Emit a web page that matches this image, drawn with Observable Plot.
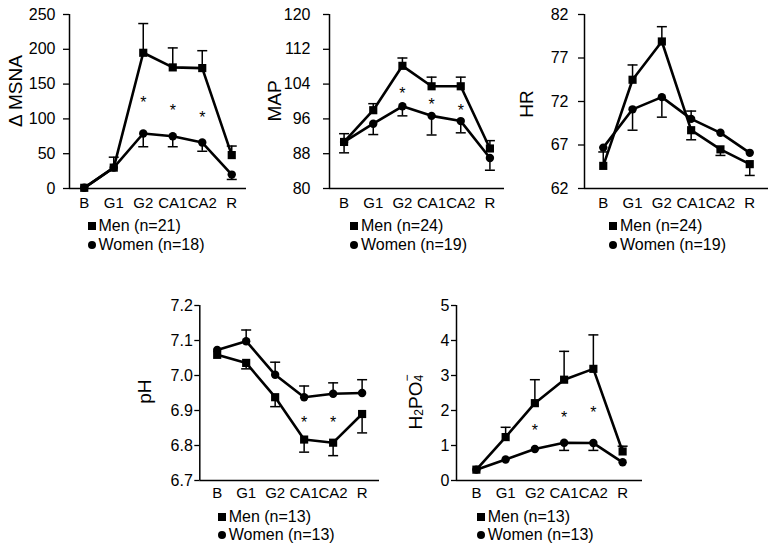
<!DOCTYPE html>
<html><head><meta charset="utf-8">
<script src="https://cdn.jsdelivr.net/npm/d3@7"></script>
<script src="https://cdn.jsdelivr.net/npm/@observablehq/plot@0.6"></script>
<style>
body{margin:0;background:#fff;font-family:"Liberation Sans",Arial,sans-serif;}
#root{position:relative;width:769px;height:547px;overflow:hidden;background:#fff;}
.panel{position:absolute;}
.panel svg{overflow:visible;}
.legend{position:absolute;font-size:16px;line-height:18.5px;color:#000;}
.row{display:flex;align-items:center;white-space:nowrap;}
.sq{width:8px;height:8px;background:#000;margin-right:3px;flex:none;}
.ci{width:8px;height:8px;border-radius:50%;background:#000;margin-right:3px;flex:none;}
</style></head><body><div id="root"></div>
<script>
const categories = ["B","G1","G2","CA1","CA2","R"];

// Δ MSNA
const msnaMen = [1, 30, 195, 174, 173, 48];
const msnaMenErr = [0, 15, 42, 28, 25, 13];
const msnaWomen = [1, 30, 79, 75, 66, 20];
const msnaWomenErr = [0, 0, -19, -15, -12.5, -7];
const msnaStarCats = ["G2","CA1","CA2"];
const msnaStarVals = [129, 117, 107];
const msnaTicks = [0, 50, 100, 150, 200, 250];

// MAP
const mapMen = [90.7, 98, 108.2, 103.5, 103.5, 89.2];
const mapMenErr = [1.9, 1.5, 1.8, 2.1, 2.1, 1.8];
const mapWomen = [90.7, 94.9, 98.9, 96.7, 95.5, 87];
const mapWomenErr = [-2.5, -2.5, -2.2, -4.4, -2.7, -2.8];
const mapStarCats = ["G2","CA1","CA2"];
const mapStarVals = [102.7, 100.1, 98.7];
const mapTicks = [80, 88, 96, 104, 112, 120];

// HR
const hrMen = [64.6, 74.5, 78.9, 68.7, 66.5, 64.8];
const hrMenErr = [1.6, 1.7, 1.7, -1.1, -0.7, -1.3];
const hrWomen = [66.7, 71.1, 72.5, 70.0, 68.4, 66.1];
const hrWomenErr = [0, -2.4, -2.3, 0.9, 0, 0];
const hrStarCats = [];
const hrStarVals = [];
const hrTicks = [62, 67, 72, 77, 82];

// pH
const phMen = [7.059, 7.036, 6.938, 6.817, 6.808, 6.890];
const phMenErr = [0, -0.017, -0.027, -0.036, -0.037, -0.054];
const phWomen = [7.073, 7.098, 7.002, 6.938, 6.948, 6.950];
const phWomenErr = [0, 0.032, 0.036, 0.032, 0.031, 0.038];
const phStarCats = ["CA1","CA2"];
const phStarVals = [6.876, 6.876];
const phTicks = [6.7, 6.8, 6.9, 7.0, 7.1, 7.2];

// H2PO4-
const hpMen = [0.31, 1.24, 2.21, 2.88, 3.19, 0.83];
const hpMenErr = [0, 0.28, 0.67, 0.81, 0.97, 0.15];
const hpWomen = [0.31, 0.60, 0.90, 1.08, 1.07, 0.52];
const hpWomenErr = [0, 0, 0, -0.22, -0.21, 0];
const hpStarCats = ["G2","CA1","CA2"];
const hpStarVals = [1.52, 1.9, 2.05];
const hpTicks = [0, 1, 2, 3, 4, 5];

const legendMen = ["Men (n=21)", "Men (n=24)", "Men (n=24)", "Men (n=13)", "Men (n=13)"];
const legendWomen = ["Women (n=18)", "Women (n=19)", "Women (n=19)", "Women (n=13)", "Women (n=13)"];

const panels = [
  {label:"Δ MSNA", men:msnaMen, menErr:msnaMenErr, women:msnaWomen, womenErr:msnaWomenErr, starCats:msnaStarCats, starVals:msnaStarVals, ticks:msnaTicks, fmt:d3.format("d"),
   left:0, top:0, width:250, height:215, mL:69, mR:4, mT:14, mB:27, pad:0.5, tickSize:6, tickPad:8, xPad:9, labX:15, labY:91, legX:87.5, legY:217},
  {label:"MAP", men:mapMen, menErr:mapMenErr, women:mapWomen, womenErr:mapWomenErr, starCats:mapStarCats, starVals:mapStarVals, ticks:mapTicks, fmt:d3.format("d"),
   left:260, top:0, width:250, height:215, mL:69, mR:6, mT:14, mB:27, pad:0.5, tickSize:6, tickPad:13, xPad:9, labX:14.5, labY:101, legX:350, legY:217},
  {label:"HR", men:hrMen, menErr:hrMenErr, women:hrWomen, womenErr:hrWomenErr, starCats:hrStarCats, starVals:hrStarVals, ticks:hrTicks, fmt:d3.format("d"),
   left:510, top:0, width:259, height:215, mL:74, mR:1, mT:14, mB:27, pad:0.64, tickSize:6, tickPad:10, xPad:9, labX:16.7, labY:104, legX:609, legY:217},
  {label:"pH", men:phMen, menErr:phMenErr, women:phWomen, womenErr:phWomenErr, starCats:phStarCats, starVals:phStarVals, ticks:phTicks, fmt:d3.format(".1f"),
   left:140, top:291, width:250, height:216, mL:59.3, mR:11, mT:14, mB:27, pad:0.6, tickSize:5, tickPad:2, xPad:7, labX:4, labY:100.6, legX:217.7, legY:507.5},
  {label:"H2PO4", men:hpMen, menErr:hpMenErr, women:hpWomen, womenErr:hpWomenErr, starCats:hpStarCats, starVals:hpStarVals, ticks:hpTicks, fmt:d3.format("d"),
   left:400, top:291, width:260, height:216, mL:56, mR:18, mT:14, mB:27, pad:0.68, tickSize:5, tickPad:2, xPad:7, labX:14.5, labY:111, legX:476.7, legY:507.5}
];

const capSymbol = {draw(ctx){ ctx.moveTo(-5, 0); ctx.lineTo(5, 0); }};
const root = document.getElementById("root");

panels.forEach((cfg, k) => {
  const idx = c => categories.indexOf(c);
  const rows = (vals, errs, sex) => categories.map((c, i) => ({cat:c, v:vals[i], e:errs[i], sex}));
  const men = rows(cfg.men, cfg.menErr, "Men");
  const women = rows(cfg.women, cfg.womenErr, "Women");
  const errData = [...men, ...women].filter(d => d.e !== 0);
  const stars = cfg.starCats.map((c, i) => ({cat:c, v:cfg.starVals[i]}));
  const yDom = [cfg.ticks[0], cfg.ticks[cfg.ticks.length - 1]];
  const xDom = [-cfg.pad, categories.length - 1 + cfg.pad];
  const chart = Plot.plot({
    width: cfg.width, height: cfg.height,
    marginLeft: cfg.mL, marginRight: cfg.mR, marginTop: cfg.mT, marginBottom: cfg.mB,
    x: {domain: xDom, label: null},
    y: {domain: yDom, label: null},
    style: {fontFamily: '"Liberation Sans", Arial, sans-serif', fontSize: "15px", color: "#000", background: "transparent", overflow: "visible"},
    marks: [
      Plot.axisY({ticks: cfg.ticks, tickFormat: cfg.fmt, tickSize: cfg.tickSize, tickPadding: cfg.tickPad, fontSize: 16, label: null, strokeWidth: 1.3}),
      Plot.axisX({ticks: d3.range(categories.length), tickFormat: i => categories[i], tickSize: 0, tickPadding: cfg.xPad, fontSize: 15, label: null}),
      Plot.ruleX([xDom[0]], {strokeWidth: 1.5}),
      Plot.ruleY([yDom[0]], {strokeWidth: 1.5}),
      Plot.ruleX(errData, {x: d => idx(d.cat), y1: "v", y2: d => d.v + d.e, strokeWidth: 1.5}),
      Plot.dot(errData, {x: d => idx(d.cat), y: d => d.v + d.e, symbol: capSymbol, stroke: "#000", strokeWidth: 1.5}),
      Plot.line(men, {x: d => idx(d.cat), y: "v", stroke: "#000", strokeWidth: 2.6}),
      Plot.line(women, {x: d => idx(d.cat), y: "v", stroke: "#000", strokeWidth: 2.6}),
      Plot.dot(men, {x: d => idx(d.cat), y: "v", symbol: "square", r: 4.6, fill: "#000"}),
      Plot.dot(women, {x: d => idx(d.cat), y: "v", symbol: "circle", r: 4.2, fill: "#000"}),
      Plot.text(stars, {x: d => idx(d.cat), y: "v", text: () => "*", fontSize: 16, dy: 4})
    ]
  });
  const div = document.createElement("div");
  div.className = "panel";
  div.style.left = cfg.left + "px";
  div.style.top = cfg.top + "px";
  div.appendChild(chart);
  root.appendChild(div);

  // y-axis title
  const svg = d3.select(chart);
  const t = svg.append("text")
    .attr("transform", `translate(${cfg.labX},${cfg.labY}) rotate(-90)`)
    .attr("text-anchor", "middle")
    .attr("dominant-baseline", "central")
    .attr("font-size", 19)
    .attr("font-family", '"Liberation Sans", Arial, sans-serif')
    .attr("fill", "#000");
  if (cfg.label === "H2PO4") {
    t.append("tspan").text("H");
    t.append("tspan").text("2").attr("font-size", 12).attr("dy", 4.5);
    t.append("tspan").text("PO").attr("dy", -4.5);
    t.append("tspan").text("4").attr("font-size", 12).attr("dy", 4.5);
    t.append("tspan").text("\u2212").attr("font-size", 12).attr("dx", -6.7).attr("dy", -12.5);
  } else {
    t.text(cfg.label);
  }

  // legend
  const leg = document.createElement("div");
  leg.className = "legend";
  leg.style.left = cfg.legX + "px";
  leg.style.top = cfg.legY + "px";
  leg.innerHTML = `<div class="row"><span class="sq"></span><span>${legendMen[k]}</span></div>` +
                  `<div class="row"><span class="ci"></span><span>${legendWomen[k]}</span></div>`;
  root.appendChild(leg);
});
</script></body></html>
